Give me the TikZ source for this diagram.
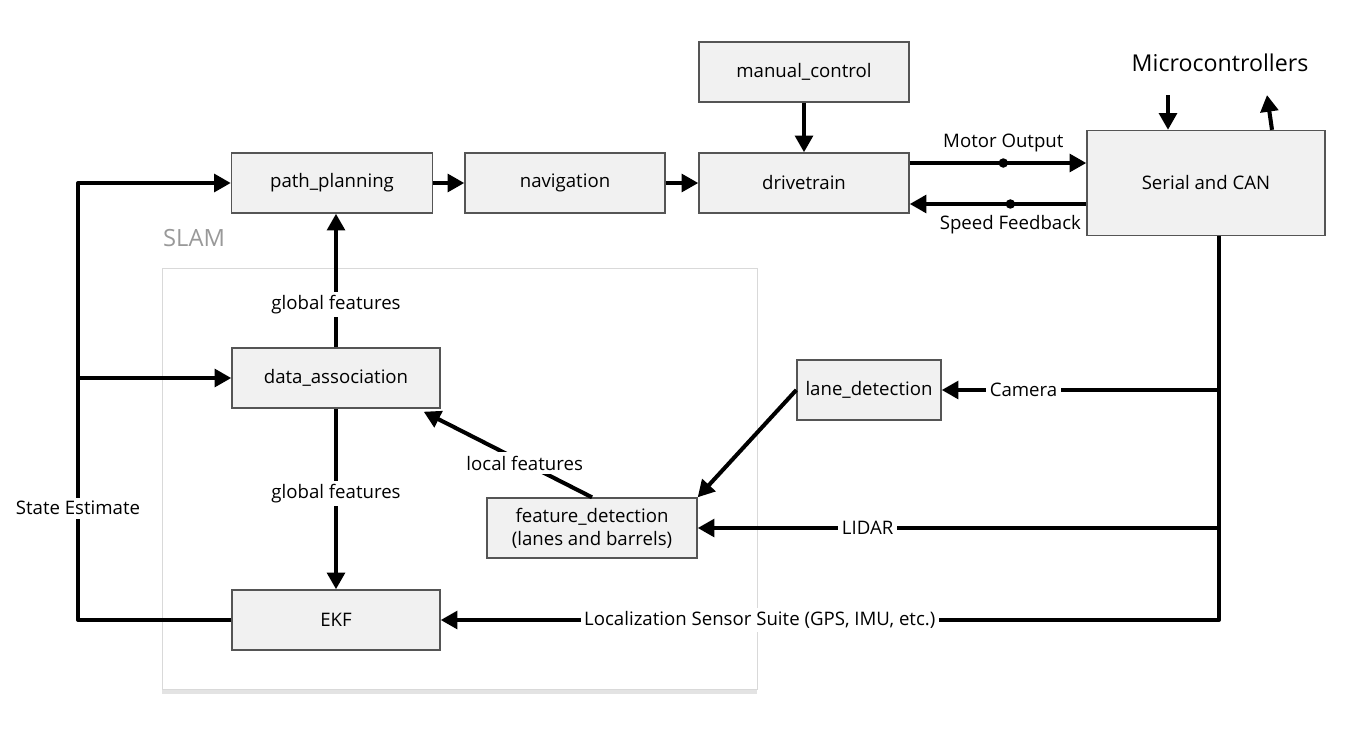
\documentclass[tikz,border=0pt]{standalone}
\usepackage{fontspec}
\setmainfont{Open Sans}
\usetikzlibrary{arrows.meta,shadows}

\definecolor{boxfill}{HTML}{F1F1F1}
\definecolor{boxline}{HTML}{555555}

\tikzset{
  block/.style={draw=boxline, fill=boxfill, line width=0.8pt, minimum height=1.2cm, align=center, inner sep=2pt},
  wire/.style={line width=2.3pt, line join=round},
  flow/.style={wire, -{Triangle[length=9.5pt,width=10pt]}},
  tag/.style={fill=white, inner sep=2pt},
  joint/.style={circle, fill=black, inner sep=0pt, minimum size=0.19cm},
}

\begin{document}
\begin{tikzpicture}[x=0.02cm, y=-0.02cm, font=\fontsize{10.6}{13}\selectfont]
\useasboundingbox (0,0) rectangle (1368,730);

% SLAM group
\node[draw=gray!30, fill=white, drop shadow={shadow xshift=0pt, shadow yshift=-3pt, opacity=0.22},
      minimum width=11.9cm, minimum height=8.42cm] (slam) at (459.5,478.5) {};
\node[anchor=west, text=gray!80, font=\fontsize{13.5}{15}\selectfont] (slamlabel) at (157,238) {SLAM};

% blocks
\node[block, minimum width=4.2cm]  (manual) at (804,72)  {manual\_control};
\node[block, minimum width=4.02cm] (path)   at (332,183) {path\_planning};
\node[block, minimum width=4.0cm]  (nav)    at (565,183) {navigation};
\node[block, minimum width=4.2cm]  (drive)  at (804,183) {drivetrain};
\node[block, minimum width=4.76cm, minimum height=2.1cm] (serial) at (1206,183) {Serial and CAN};
\node[block, minimum width=4.16cm] (data)   at (336,378) {data\_association};
\node[block, minimum width=2.88cm] (lane)   at (869,390) {lane\_detection};
\node[block, minimum width=4.2cm]  (feat)   at (592,528) {feature\_detection\\(lanes and barrels)};
\node[block, minimum width=4.16cm] (ekf)    at (336,620) {EKF};
\node[font=\fontsize{13.2}{15}\selectfont] (micro) at (1220,63) {Microcontrollers};

% control chain
\draw[flow] (path) -- (nav);
\draw[flow] (nav) -- (drive);
\draw[flow] (manual) -- (drive);
\draw[flow] ([yshift=0.4cm]drive.east) -- ([yshift=0.4cm]drive.east -| serial.west)
      node[pos=0.53, joint] {} node[pos=0.53, above=2pt] {Motor Output};
\draw[flow] ([yshift=-0.42cm]serial.west) -- ([yshift=-0.42cm]serial.west -| drive.east)
      node[pos=0.43, joint] {} node[pos=0.43, below=2pt] {Speed Feedback};

% microcontroller link
\coordinate (mcin) at (1168,95);
\coordinate (mcout) at (1267,95);
\draw[flow] (mcin) -- (mcin |- serial.north);
\draw[flow] ([xshift=1.32cm]serial.north) -- (mcout);

% sensors
\coordinate (bus) at ([xshift=0.26cm]serial.south);
\draw[flow] (bus) |- (ekf.east) node[pos=0.795, tag] {Localization Sensor Suite (GPS, IMU, etc.)};
\draw[flow] (bus |- lane.east) -- (lane.east) node[pos=0.705, tag] {Camera};
\draw[flow] (bus |- feat.east) -- (feat.east) node[pos=0.674, tag] {LIDAR};

% SLAM internals
\draw[flow] (lane.west) -- (feat.north east);
\draw[flow] (feat.north) -- ([xshift=-0.34cm, yshift=-0.06cm]data.south east) node[pos=0.4, tag] {local features};
\draw[flow] (data.north) -- (data.north |- path.south) node[pos=0.32, tag] {global features};
\draw[flow] (data.south) -- (ekf.north) node[pos=0.47, tag] {global features};

% state estimate loop
\coordinate (loop) at (78,620);
\draw[flow] (ekf.west) -- (loop) -- (loop |- path.west) node[pos=0.256, tag] {State Estimate} -- (path.west);
\draw[flow] (loop |- data.west) -- (data.west);
\end{tikzpicture}
\end{document}
